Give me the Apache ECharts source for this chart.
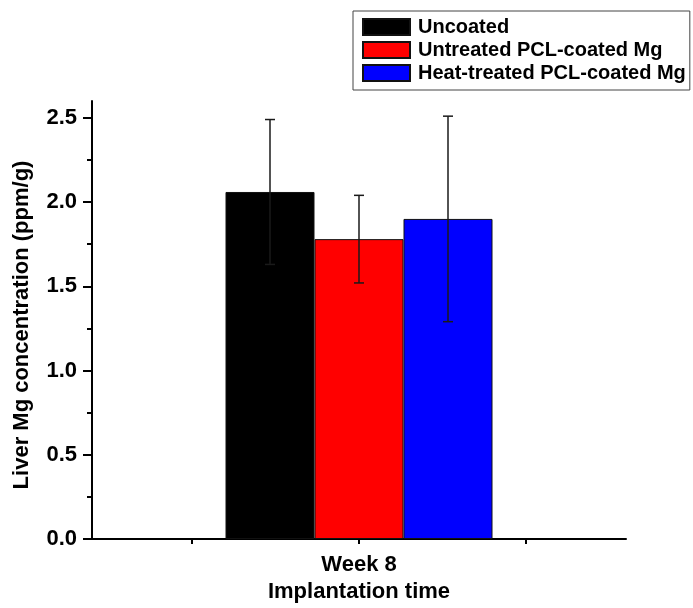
<!DOCTYPE html>
<html>
<head>
<meta charset="utf-8">
<script src="https://cdn.jsdelivr.net/npm/echarts@6/dist/echarts.min.js"></script>
<style>
  html, body { margin: 0; padding: 0; background: #fff; }
  #main { width: 693px; height: 608px; }
</style>
</head>
<body>
<div id="main"></div>
<script>
// data
const categories = ['Week 8'];
const categoryPos = [1];
const groupNames = ['Uncoated', 'Untreated PCL-coated Mg', 'Heat-treated PCL-coated Mg'];
const groupColors = ['#000000', '#ff0000', '#0000ff'];
const means = [2.06, 1.78, 1.90];
const errors = [0.43, 0.26, 0.61];
const xTicks = [0.5, 1, 1.5];
const yMajorTicks = [0, 0.5, 1, 1.5, 2, 2.5];
const yMinorTicks = [0.25, 0.75, 1.25, 1.75, 2.25];

const font = "'Liberation Sans', Arial, sans-serif";
const barW = 89;

const chart = echarts.init(document.getElementById('main'));

const barSeries = groupNames.map(function (name, i) {
  return {
    name: name,
    type: 'bar',
    barWidth: barW,
    barGap: '0%',
    xAxisIndex: 0,
    yAxisIndex: 0,
    itemStyle: { color: groupColors[i], borderColor: '#111', borderWidth: 1 },
    data: [[categoryPos[0], means[i]]],
    z: 2
  };
});

// error bars: [x, low, high, group index]
const errData = groupNames.map(function (n, i) {
  return [categoryPos[0], means[i] - errors[i], means[i] + errors[i], i];
});

const option = {
  animation: false,
  backgroundColor: '#fff',
  grid: { left: 92, right: 67, top: 101, bottom: 69, outerBoundsMode: 'none' },
  legend: {
    data: groupNames,
    orient: 'vertical',
    left: 353,
    top: 11,
    itemWidth: 47,
    itemHeight: 16,
    itemGap: 3,
    padding: [6, 4, 7, 9],
    borderColor: '#444',
    borderWidth: 1,
    icon: 'rect',
    textStyle: { fontFamily: font, fontSize: 20, fontWeight: 'bold', color: '#000', padding: [0, 0, 0, 3] }
  },
  xAxis: {
    type: 'value',
    min: 0.2,
    max: 1.8,
    name: 'Implantation time',
    nameLocation: 'middle',
    nameGap: 33,
    nameTextStyle: { fontFamily: font, fontSize: 22, fontWeight: 'bold', color: '#000' },
    axisLine: { show: true, lineStyle: { color: '#000', width: 2 } },
    axisTick: { show: true, customValues: xTicks, length: 5, lineStyle: { color: '#000', width: 2 } },
    axisLabel: {
      customValues: categoryPos,
      margin: 15,
      fontFamily: font, fontSize: 22, fontWeight: 'bold', color: '#000',
      formatter: function (v) {
        const k = categoryPos.indexOf(v);
        return k >= 0 ? categories[k] : '';
      }
    },
    splitLine: { show: false }
  },
  yAxis: [
    {
      type: 'value',
      min: 0,
      max: 2.6,
      name: 'Liver Mg concentration (ppm/g)',
      nameLocation: 'middle',
      nameGap: 59,
      nameTextStyle: { fontFamily: font, fontSize: 22, fontWeight: 'bold', color: '#000', padding: [0, 10, 0, 0] },
      axisLine: { show: true, lineStyle: { color: '#000', width: 2 } },
      axisTick: { show: true, customValues: yMajorTicks, length: 9, lineStyle: { color: '#000', width: 2 } },
      axisLabel: {
        customValues: yMajorTicks,
        margin: 15,
        fontFamily: font, fontSize: 22, fontWeight: 'bold', color: '#000',
        formatter: function (v) { return v.toFixed(1); }
      },
      splitLine: { show: false }
    },
    {
      // minor ticks only
      type: 'value',
      min: 0,
      max: 2.6,
      position: 'left',
      axisLine: { show: false },
      axisTick: { show: true, customValues: yMinorTicks, length: 5, lineStyle: { color: '#000', width: 2 } },
      axisLabel: { show: false },
      splitLine: { show: false }
    }
  ],
  series: barSeries.concat([{
    type: 'custom',
    name: 'error',
    xAxisIndex: 0,
    yAxisIndex: 0,
    z: 5,
    encode: { x: 0, y: [1, 2] },
    data: errData,
    renderItem: function (params, api) {
      const idx = api.value(3);
      const x = api.coord([api.value(0), 0])[0] + (idx - (groupNames.length - 1) / 2) * barW;
      const lo = api.coord([api.value(0), api.value(1)])[1];
      const hi = api.coord([api.value(0), api.value(2)])[1];
      const cap = 5;
      const st = { stroke: '#1a1a1a', lineWidth: 1.5 };
      return {
        type: 'group',
        children: [
          { type: 'line', shape: { x1: x, y1: lo, x2: x, y2: hi }, style: st },
          { type: 'line', shape: { x1: x - cap, y1: hi, x2: x + cap, y2: hi }, style: st },
          { type: 'line', shape: { x1: x - cap, y1: lo, x2: x + cap, y2: lo }, style: st }
        ]
      };
    }
  }])
};

chart.setOption(option);
</script>
</body>
</html>
